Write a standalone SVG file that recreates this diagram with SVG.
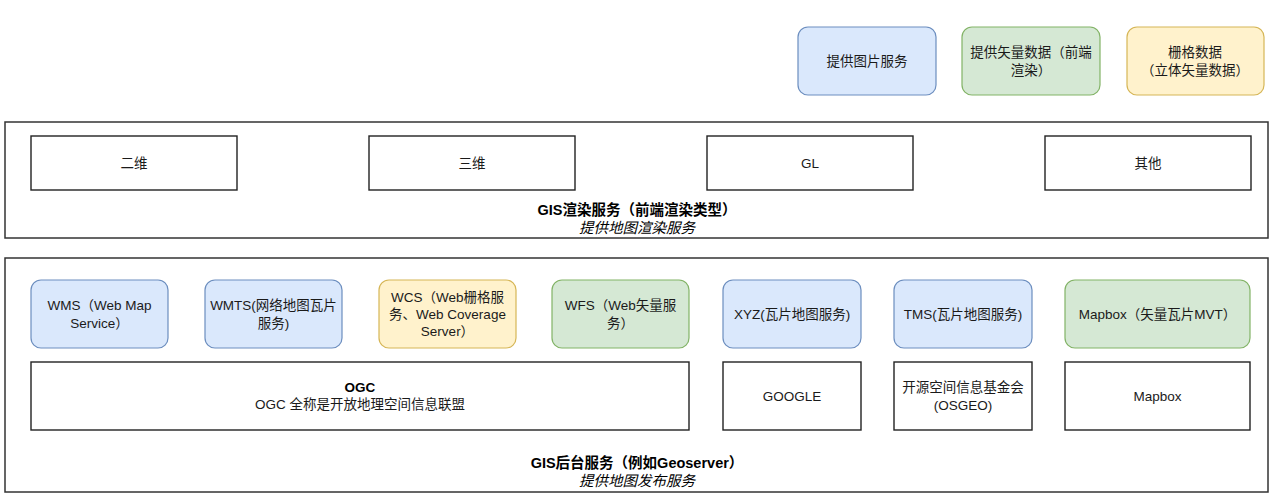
<svg xmlns="http://www.w3.org/2000/svg" width="1280" height="497" viewBox="0 0 1280 497">
<style>
text{font-family:"Liberation Sans","Noto Sans CJK SC",sans-serif;font-size:13.5px;fill:#1a1a1a;text-anchor:middle;dominant-baseline:central}
.title{font-size:14.5px;font-weight:bold;fill:#000}
.sub{font-size:14.5px;font-style:italic;fill:#000}
.cont{fill:#fff;stroke:#333;stroke-width:1.5}
.box{fill:#fff;stroke:#222;stroke-width:1.4}
.blue{fill:#dae8fc;stroke:#6c8ebf;stroke-width:1.2}
.green{fill:#d5e8d4;stroke:#82b366;stroke-width:1.2}
.yellow{fill:#fff2cc;stroke:#d6b656;stroke-width:1.2}
</style>
<rect width="1280" height="497" fill="#fff"/>
<g id="legend-image"><rect class="blue" x="798" y="27" width="138" height="68" rx="10"/><text x="867" y="61">提供图片服务</text></g>
<g id="legend-vector"><rect class="green" x="962" y="27" width="138" height="68" rx="10"/><text x="1031" y="52">提供矢量数据（前端</text><text x="1031" y="70">渲染）</text></g>
<g id="legend-raster"><rect class="yellow" x="1127" y="27" width="137" height="68" rx="10"/><text x="1195" y="52">栅格数据</text><text x="1195" y="70">（立体矢量数据）</text></g>

<g id="render-container"><rect class="cont" x="5" y="122" width="1263" height="116"/><text class="title" x="637" y="210">GIS渲染服务（前端渲染类型）</text><text class="sub" x="637" y="228">提供地图渲染服务</text></g>
<g id="r-2d"><rect class="box" x="31" y="136" width="206" height="54"/><text x="134" y="163">二维</text></g>
<g id="r-3d"><rect class="box" x="369" y="136" width="206" height="54"/><text x="472" y="163">三维</text></g>
<g id="r-gl"><rect class="box" x="707" y="136" width="206" height="54"/><text x="810" y="163">GL</text></g>
<g id="r-other"><rect class="box" x="1045" y="136" width="206" height="54"/><text x="1148" y="163">其他</text></g>

<g id="backend-container"><rect class="cont" x="5" y="258" width="1263" height="234"/><text class="title" x="637" y="463">GIS后台服务（例如Geoserver）</text><text class="sub" x="637" y="481">提供地图发布服务</text></g>
<g id="wms"><rect class="blue" x="31" y="280" width="137" height="68" rx="10"/><text x="99.5" y="305">WMS（Web Map</text><text x="99.5" y="323">Service）</text></g>
<g id="wmts"><rect class="blue" x="205" y="280" width="137" height="68" rx="10"/><text x="273.5" y="305">WMTS(网络地图瓦片</text><text x="273.5" y="323">服务)</text></g>
<g id="wcs"><rect class="yellow" x="379" y="280" width="137" height="68" rx="10"/><text x="447.5" y="297">WCS（Web栅格服</text><text x="447.5" y="314">务、Web Coverage</text><text x="447.5" y="331">Server）</text></g>
<g id="wfs"><rect class="green" x="552" y="280" width="137" height="68" rx="10"/><text x="620.5" y="305">WFS（Web矢量服</text><text x="620.5" y="323">务）</text></g>
<g id="xyz"><rect class="blue" x="723" y="280" width="138" height="68" rx="10"/><text x="792" y="314">XYZ(瓦片地图服务)</text></g>
<g id="tms"><rect class="blue" x="894" y="280" width="138" height="68" rx="10"/><text x="963" y="314">TMS(瓦片地图服务)</text></g>
<g id="mapbox-mvt"><rect class="green" x="1065" y="280" width="185" height="68" rx="10"/><text x="1157.5" y="314">Mapbox（矢量瓦片MVT）</text></g>

<g id="ogc"><rect class="box" x="31" y="362" width="658" height="68"/><text x="360" y="387" style="font-weight:bold;fill:#000">OGC</text><text x="360" y="404">OGC 全称是开放地理空间信息联盟</text></g>
<g id="google"><rect class="box" x="723" y="362" width="138" height="68"/><text x="792" y="396">GOOGLE</text></g>
<g id="osgeo"><rect class="box" x="894" y="362" width="138" height="68"/><text x="963" y="387">开源空间信息基金会</text><text x="963" y="405">(OSGEO)</text></g>
<g id="mapbox"><rect class="box" x="1065" y="362" width="185" height="68"/><text x="1157.5" y="396">Mapbox</text></g>
<g id="connectors"></g>
</svg>
